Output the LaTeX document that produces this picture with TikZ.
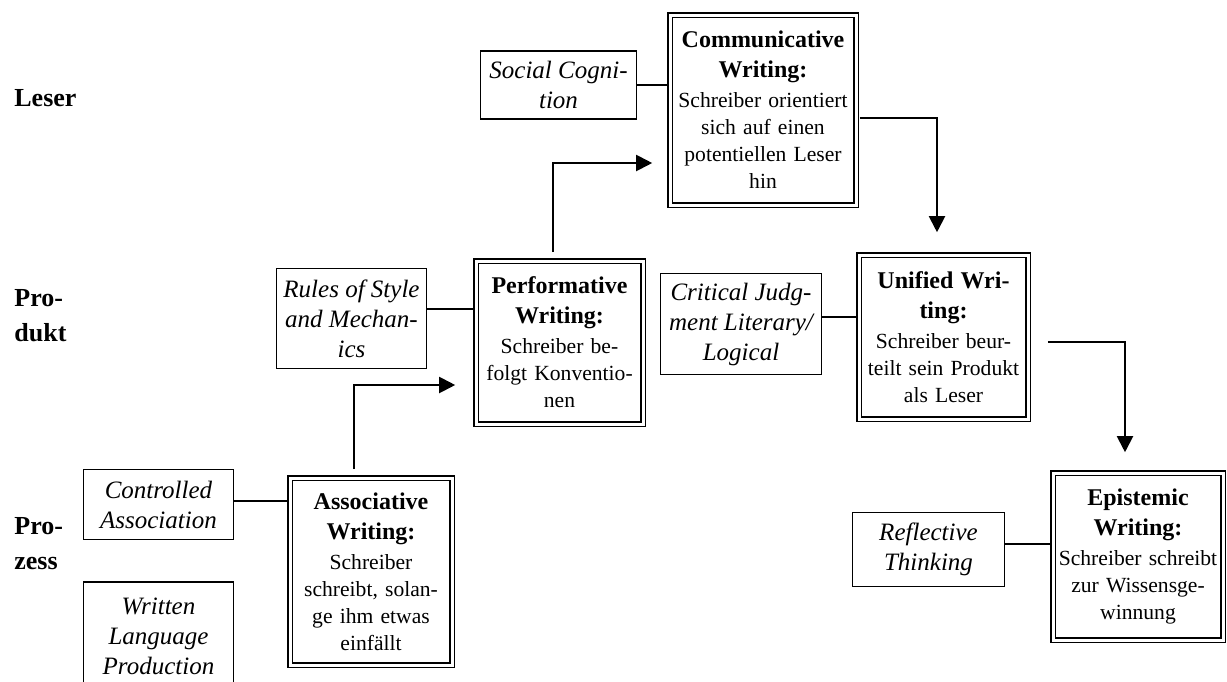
\documentclass[tikz,border=0pt]{standalone}
\usepackage{fontspec}
\setmainfont{Liberation Serif}
\usetikzlibrary{arrows.meta, positioning}

\newcommand{\headfont}{\fontsize{12}{15}\selectfont\bfseries}
\newcommand{\bodyfont}{\fontsize{10.8}{13.5}\selectfont}
\newcommand{\notefont}{\fontsize{12.5}{15}\selectfont\itshape}
\newcommand{\levelfont}{\fontsize{13}{17.5}\selectfont\bfseries}
% bold title on top of a stage box
\newcommand{\stage}[1]{{\headfont #1\par}\vspace{1.5pt}\noindent}

\begin{document}
\begin{tikzpicture}[
    x=0.5pt, y=-0.5pt,
    stagebox/.style={draw, double, double distance=1.5pt, line width=0.8pt, align=center, inner sep=2pt, font=\bodyfont},
    notebox/.style={draw, line width=0.9pt, align=center, inner sep=1pt, font=\notefont},
    level/.style={anchor=west, align=left, inner sep=0pt, font=\levelfont},
    link/.style={draw, line width=1pt},
    flow/.style={link, -{Triangle[length=8pt, width=8pt]}}
]

\useasboundingbox (0,0) rectangle (1227,681);
\fill[white] (0,0) rectangle (1227,681);
\clip (0,0) rectangle (1227,681);

% Levels
\node[level] (leser) at (14,98) {Leser};
\node[level] (produkt) at (14,316) {Pro-\\dukt};
\node[level] (prozess) at (14,544) {Pro-\\zess};

% Stages
\node[stagebox, text width=89pt, minimum height=95pt] (comm) at (763,110) {\stage{Communicative\\Writing:}Schreiber orientiert\\sich auf einen\\potentiellen Leser\\hin};
\node[stagebox, text width=79.5pt, minimum height=81.5pt] (perf) at (559.5,342.5) {\stage{Performative\\Writing:}Schreiber be-\\folgt Konventio-\\nen};
\node[stagebox, text width=80.5pt, minimum height=82pt] (unif) at (943.5,337) {\stage{Unified Wri-\\ting:}Schreiber beur-\\teilt sein Produkt\\als Leser};
\node[stagebox, text width=81pt, minimum height=83.5pt] (epi) at (1138,556.5) {\stage{Epistemic\\Writing:}Schreiber schreibt\\zur Wissensge-\\winnung};
\node[stagebox, text width=77pt, minimum height=93.5pt] (assoc) at (371,571.5) {\stage{Associative\\Writing:}Schreiber\\schreibt, solan-\\ge ihm etwas\\einfällt};

% Side notes
\node[notebox, minimum width=78pt, minimum height=34pt] (social) at (558.5,85) {Social Cogni-\\tion};
\node[notebox, minimum width=75pt, minimum height=50pt] (rules) at (351.5,318.5) {Rules of Style\\and Mechan-\\ics};
\node[notebox, minimum width=80.5pt, minimum height=50.5pt] (crit) at (741,324) {Critical Judg-\\ment Literary/\\Logical};
\node[notebox, minimum width=76pt, minimum height=37pt] (refl) at (928.5,549.5) {Reflective\\Thinking};
\node[notebox, minimum width=75pt, minimum height=35pt] (ctrl) at (158.5,504.5) {Controlled\\Association};
\node[notebox, minimum width=75pt, minimum height=54pt, below=20.5pt of ctrl] (wlp) {Written\\Language\\Production};

% Links
\draw[link] (social.east) -- (social.east -| comm.west);
\draw[link] ([yshift=5pt]rules.east) -- ([yshift=5pt]rules.east -| perf.west);
\draw[link] ([yshift=3.5pt]crit.east) -- ([yshift=3.5pt]crit.east -| unif.west);
\draw[link] ([yshift=3pt]refl.east) -- ([yshift=3pt]refl.east -| epi.west);
\draw[link] ([yshift=2pt]ctrl.east) -- ([yshift=2pt]ctrl.east -| assoc.west);

% Flow
\draw[flow, shorten <=4pt, shorten >=10pt] ([xshift=-8.5pt]assoc.north) |- ([yshift=-21.25pt]perf.west);
\draw[flow, shorten <=4pt, shorten >=8.5pt] ([xshift=-3.25pt]perf.north) |- ([yshift=-26.5pt]comm.west);
\draw[flow, shorten <=1.5pt, shorten >=11pt] ([yshift=-4pt]comm.east) -| ([xshift=-3.25pt]unif.north);
\draw[flow, shorten <=9.5pt, shorten >=10pt] ([yshift=-2.5pt]unif.east) -| ([xshift=-6.5pt]epi.north);

\end{tikzpicture}
\end{document}
